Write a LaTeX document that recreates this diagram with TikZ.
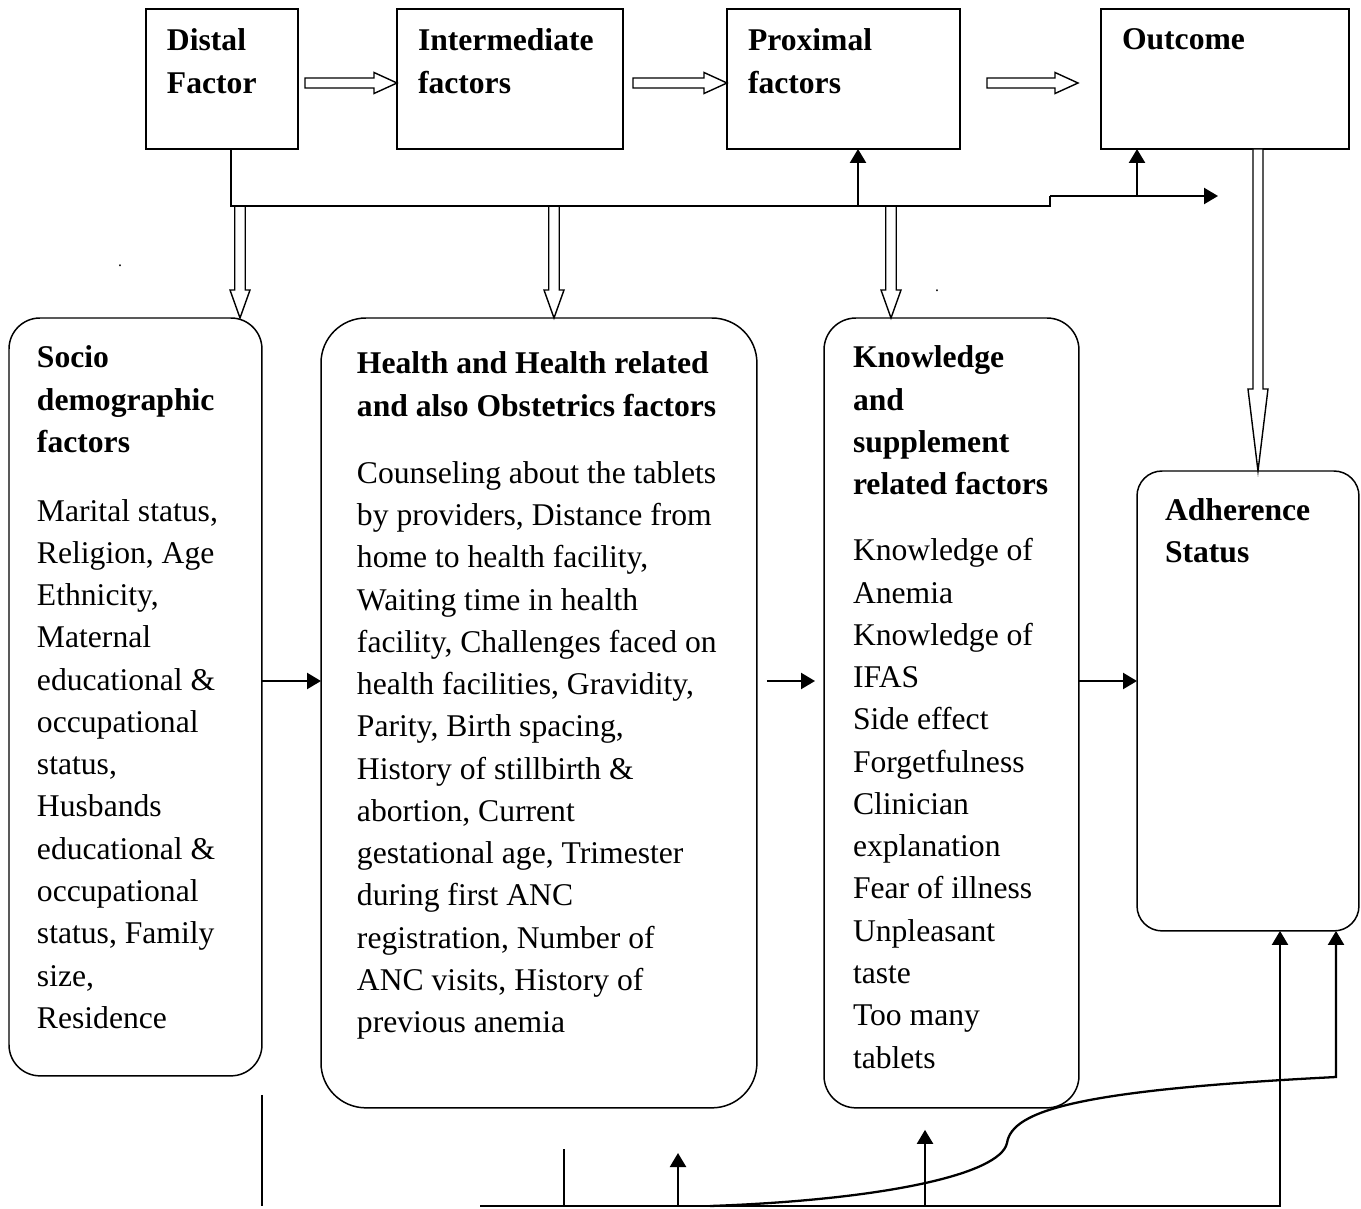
\documentclass[tikz,border=0pt]{standalone}
\usepackage{fontspec}
\setmainfont{Liberation Serif}
\usetikzlibrary{arrows.meta,positioning,calc}

% text block inside a box: width, height, left pad, top pad, text
\newcommand{\boxtext}[5]{\parbox[c][#2][t]{#1}{\raggedright\setlength{\leftskip}{#3}\vspace*{#4}#5}}
% hollow block arrow: from, to, shaft half width, head half width, head length
\newcommand{\fatarrow}[5]{%
  \path ($(#2)!#5!(#1)$) coordinate (fathead);
  \draw[hollow] ($(#1)!#3!-90:(#2)$) -- ($(fathead)!#3!-90:(#2)$) -- ($(fathead)!#4!-90:(#2)$) -- (#2)
    -- ($(fathead)!#4!90:(#2)$) -- ($(fathead)!#3!90:(#2)$) -- ($(#1)!#3!90:(#2)$) -- cycle;}

\begin{document}
\begin{tikzpicture}[x=0.02cm,y=-0.02cm,
  font=\fontsize{18}{24.05}\selectfont,
  sqbox/.style={draw,line width=0.85pt,inner sep=0pt,outer sep=0pt,anchor=north west},
  rbox/.style={sqbox,rounded corners=#1},
  hollow/.style={line width=0.8pt,fill=white},
  link/.style={line width=1.3pt},
  arr/.style={link,-{Triangle[length=0.28cm,width=0.32cm]}}]
\useasboundingbox (0,0) rectangle (1361,1209);

% top row
\node[sqbox] (distal) at (146,9) {\boxtext{3.04cm}{2.8cm}{0.42cm}{0.40cm}{\textbf{Distal\\Factor}}};
\node[sqbox] (inter) at (397,9) {\boxtext{4.52cm}{2.8cm}{0.42cm}{0.40cm}{\textbf{Intermediate\\factors}}};
\node[sqbox] (prox) at (727,9) {\boxtext{4.66cm}{2.8cm}{0.42cm}{0.40cm}{\textbf{Proximal\\factors}}};
\node[sqbox] (outcome) at (1101,9) {\boxtext{4.96cm}{2.8cm}{0.42cm}{0.40cm}{\textbf{Outcome}}};

% factor boxes
\node[rbox=0.62cm] (socio) at (9,318) {\boxtext{5.06cm}{15.16cm}{0.56cm}{0.56cm}{\textbf{Socio\\demographic\\factors}\\[0.53cm]
Marital status,\\Religion, Age\\Ethnicity,\\Maternal\\educational \&\\occupational\\status,\\Husbands\\educational \&\\occupational\\status, Family\\size,\\Residence}};
\node[rbox=0.9cm] (health) at (321,318) {\boxtext{8.72cm}{15.8cm}{0.72cm}{0.68cm}{\textbf{Health and Health related\\and also Obstetrics factors}\\[0.5cm]
Counseling about the tablets\\by providers, Distance from\\home to health facility,\\Waiting time in health\\facility, Challenges faced on\\health facilities, Gravidity,\\Parity, Birth spacing,\\History of stillbirth \&\\abortion, Current\\gestational age, Trimester\\during first ANC\\registration, Number of\\ANC visits, History of\\previous anemia}};
\node[rbox=0.64cm] (knowl) at (824,318) {\boxtext{5.10cm}{15.8cm}{0.58cm}{0.56cm}{\textbf{Knowledge\\and\\supplement\\related factors}\\[0.48cm]
Knowledge of\\Anemia\\Knowledge of\\IFAS\\Side effect\\Forgetfulness\\Clinician\\explanation\\Fear of illness\\Unpleasant\\taste\\Too many\\tablets}};
\node[rbox=0.5cm] (adher) at (1137,471) {\boxtext{4.44cm}{9.2cm}{0.56cm}{0.55cm}{\textbf{Adherence\\Status}}};

\node[font=\fontsize{9}{10}\selectfont] (dotl) at (120,266) {.};
\node[font=\fontsize{9}{10}\selectfont] (dotr) at (937,291) {.};

% hollow arrows along the top
\coordinate (toprow) at (0,83);
\coordinate (t1s) at ($(distal.east |- toprow)+(7,0)$);
\coordinate (t1e) at (inter.west |- toprow);
\coordinate (t2s) at ($(inter.east |- toprow)+(10,0)$);
\coordinate (t2e) at (prox.west |- toprow);
\coordinate (t3s) at ($(prox.east |- toprow)+(27,0)$);
\coordinate (t3e) at ($(outcome.west |- toprow)+(-23,0)$);
\fatarrow{t1s}{t1e}{0.1cm}{0.21cm}{0.46cm}
\fatarrow{t2s}{t2e}{0.1cm}{0.21cm}{0.46cm}
\fatarrow{t3s}{t3e}{0.1cm}{0.21cm}{0.46cm}

% hollow arrows down to the factor boxes
\coordinate (brrow) at (0,206);
\coordinate (d1s) at (240,206);
\coordinate (d1e) at (d1s |- socio.north);
\coordinate (d2s) at (554,206);
\coordinate (d2e) at (d2s |- health.north);
\coordinate (d3s) at (891,206);
\coordinate (d3e) at (d3s |- knowl.north);
\fatarrow{d1s}{d1e}{0.105cm}{0.2cm}{0.56cm}
\fatarrow{d2s}{d2e}{0.105cm}{0.2cm}{0.56cm}
\fatarrow{d3s}{d3e}{0.105cm}{0.2cm}{0.56cm}
\coordinate (d4s) at ($(outcome.south)+(33,0)$);
\coordinate (d4e) at (d4s |- adher.north);
\fatarrow{d4s}{d4e}{0.1cm}{0.2cm}{1.64cm}

% branch line under the top row
\coordinate (br0) at ($(distal.south)+(9,0)$);
\coordinate (br1) at (br0 |- brrow);
\coordinate (step1) at (1050,206);
\coordinate (step2) at (1050,196);
\coordinate (brend) at (1218,196);
\draw[link] (br0) -- (br1) -- (step1) -- (step2);
\draw[arr] (step2) -- (brend);
\coordinate (jp) at (858,206);
\draw[arr] (jp) -- (jp |- prox.south);
\coordinate (jo) at (1137,196);
\draw[arr] (jo) -- (jo |- outcome.south);

% middle row
\coordinate (midrow) at (0,681);
\draw[arr] (socio.east |- midrow) -- (health.west |- midrow);
\draw[arr] ($(health.east |- midrow)+(10,0)$) -- ($(knowl.west |- midrow)+(-9,0)$);
\draw[arr] (knowl.east |- midrow) -- (adher.west |- midrow);

% lines along the bottom
\coordinate (baserow) at (0,1206);
\draw[link] ($(socio.south east)+(0,19)$) -- (socio.south east |- baserow);
\coordinate (v2) at (564,1149);
\draw[link] (v2) -- (v2 |- baserow);
\coordinate (bl) at (480,1206);
\coordinate (rb) at (1280,1206);
\draw[arr] (bl) -| (rb |- adher.south);
\coordinate (u1) at (678,1206);
\draw[arr] (u1) -- ++(0,-53);
\coordinate (u2) at (925,1206);
\draw[arr] (u2) -- ($(u2 |- knowl.south)+(0,22)$);
\coordinate (c0) at (710,1206);
\coordinate (c1) at (1007,1143);
\coordinate (c2) at (1336,1077);
\draw[arr] (c0) .. controls (880,1200) and (1000,1175) .. (c1)
  .. controls (1012,1110) and (1080,1090) .. (c2) -- (c2 |- adher.south);
\end{tikzpicture}
\end{document}
